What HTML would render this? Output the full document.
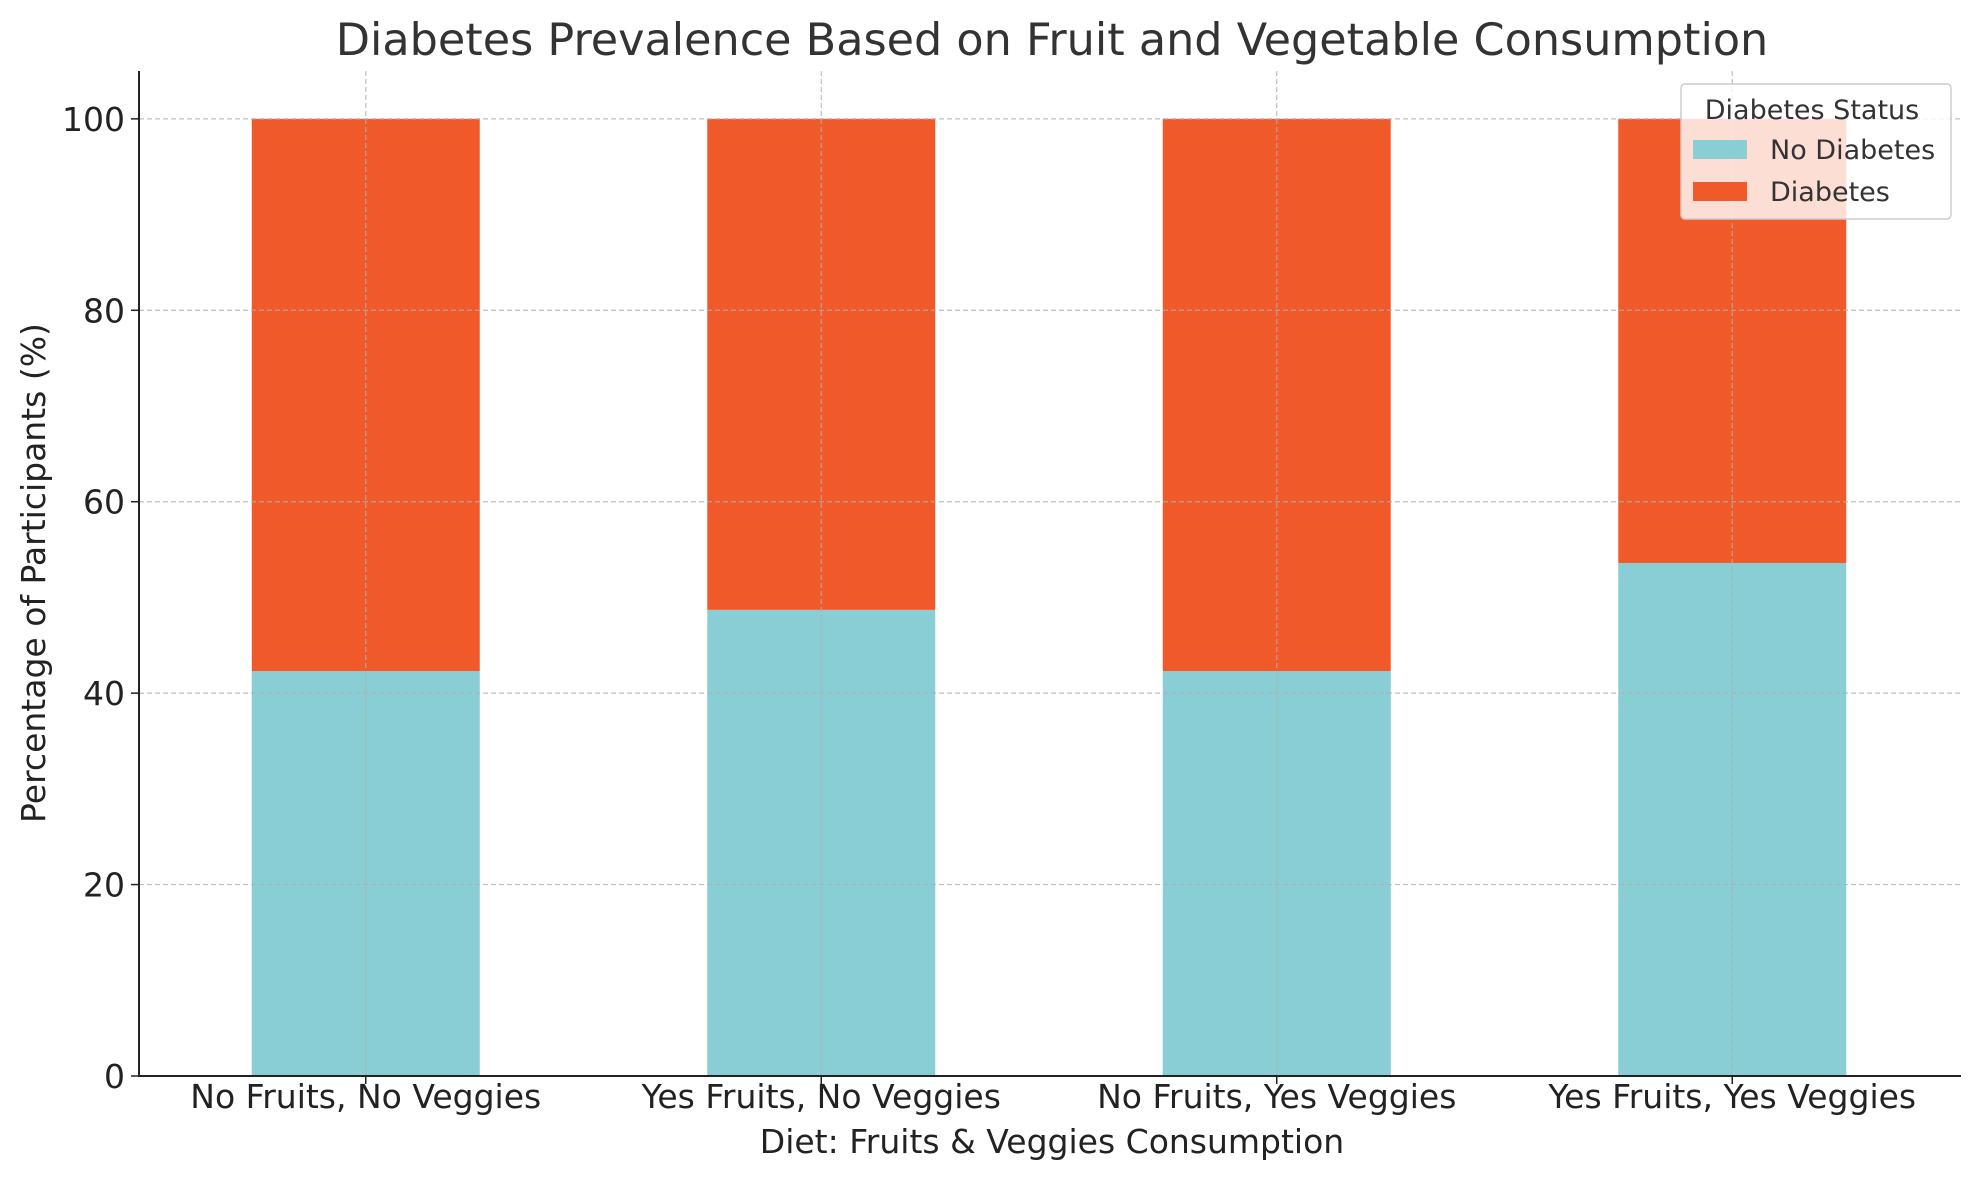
<!DOCTYPE html>
<html><head><meta charset="utf-8"><style>
html,body{margin:0;padding:0;background:#fff;}
svg{display:block;font-family:"DejaVu Sans","Liberation Sans",sans-serif;}
</style></head><body>
<svg id="chart" width="1979" height="1180" viewBox="0 0 1979 1180"></svg>
<script>
const categories = ["No Fruits, No Veggies","Yes Fruits, No Veggies","No Fruits, Yes Veggies","Yes Fruits, Yes Veggies"];
const noDiabetes = [42.3, 48.7, 42.3, 53.6];
const diabetes = [57.7, 51.3, 57.7, 46.4];
const yTicks = [0,20,40,60,80,100];
const seriesNames = ["No Diabetes","Diabetes"];

const svg = document.getElementById('chart');
const NS = 'http://www.w3.org/2000/svg';
const L=139, R=1961, T=71, B=1076;
const yMax=105;
const y = v => B - v/yMax*(B-T);
const step=(R-L)/4;
const x = i => L + step*(i+0.5) - 1;
const bw = 228;
const C1="#88CED4", C2="#F05A2A";
function el(tag, attrs, parent){const e=document.createElementNS(NS,tag);for(const k in attrs)e.setAttribute(k,attrs[k]);(parent||svg).appendChild(e);return e;}

categories.forEach((c,i)=>{
  const b1=el('rect',{x:x(i)-bw/2,y:y(noDiabetes[i]),width:bw,height:B-y(noDiabetes[i]),fill:C1});
  
  
  const top=noDiabetes[i]+diabetes[i];
  const b2=el('rect',{x:x(i)-bw/2,y:y(top),width:bw,height:y(noDiabetes[i])-y(top),fill:C2});
  
  
});
yTicks.forEach(v=>{
  const g=el('line',{x1:L,x2:R,y1:y(v),y2:y(v),stroke:'#b0b0b0','stroke-width':1.2,'stroke-dasharray':'5,3',opacity:0.8});
  
  
  const t=el('text',{x:125,y:y(v)+12,'text-anchor':'end','font-size':33,fill:'#222'});
  t.textContent=v;
  
  
  el('line',{x1:L-8,x2:L,y1:y(v),y2:y(v),stroke:'#222','stroke-width':1.5});
});
categories.forEach((c,i)=>{
  const g=el('line',{x1:x(i),x2:x(i),y1:T,y2:B,stroke:'#b0b0b0','stroke-width':1.2,'stroke-dasharray':'5,3',opacity:0.8});
  
  
  el('line',{x1:x(i),x2:x(i),y1:B,y2:B+8,stroke:'#222','stroke-width':1.5});
  const t=el('text',{x:x(i),y:1108,'text-anchor':'middle','font-size':33,fill:'#222'});
  t.textContent=c;
  
  
});
el('line',{x1:L,x2:L,y1:T,y2:B+1,stroke:'#222','stroke-width':2});
el('line',{x1:L-1,x2:R,y1:B,y2:B,stroke:'#222','stroke-width':2});
</script>
<svg style="position:absolute;left:0;top:0" width="1979" height="1180">
<text x="1052" y="55" text-anchor="middle" font-size="44.5" fill="#333" font-family="DejaVu Sans, Liberation Sans, sans-serif">Diabetes Prevalence Based on Fruit and Vegetable Consumption</text>
<text x="1052" y="1153" text-anchor="middle" font-size="33" fill="#222" font-family="DejaVu Sans, Liberation Sans, sans-serif">Diet: Fruits &amp; Veggies Consumption</text>
<text transform="translate(45,573) rotate(-90)" text-anchor="middle" font-size="33" fill="#222" font-family="DejaVu Sans, Liberation Sans, sans-serif">Percentage of Participants (%)</text>
<g font-family="DejaVu Sans, Liberation Sans, sans-serif">
<rect x="1681" y="84" width="270" height="135" rx="4" fill="#fff" fill-opacity="0.8" stroke="#ccc" stroke-width="1.5"/>
<text x="1812" y="119" text-anchor="middle" font-size="27" fill="#333">Diabetes Status</text>
<rect x="1693" y="140" width="54" height="19" fill="#88CED4"/>
<text x="1770" y="159" font-size="27" fill="#333">No Diabetes</text>
<rect x="1693" y="182" width="54" height="19" fill="#F05A2A"/>
<text x="1770" y="201" font-size="27" fill="#333">Diabetes</text>
</g>
</svg>
</body></html>
